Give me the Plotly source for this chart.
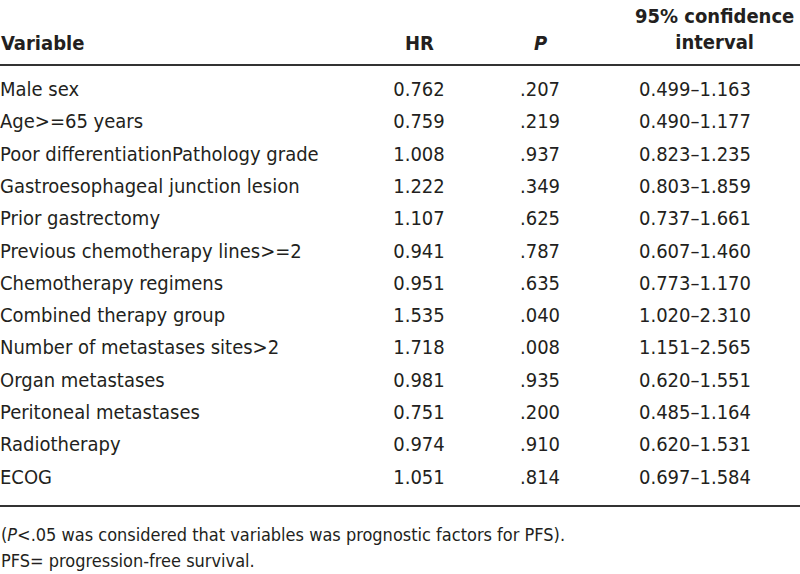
import plotly.graph_objects as go

variables = [
    "Male sex",
    "Age&gt;=65 years",
    "Poor differentiationPathology grade",
    "Gastroesophageal junction lesion",
    "Prior gastrectomy",
    "Previous chemotherapy lines&gt;=2",
    "Chemotherapy regimens",
    "Combined therapy group",
    "Number of metastases sites&gt;2",
    "Organ metastases",
    "Peritoneal metastases",
    "Radiotherapy",
    "ECOG",
]
hr = ["0.762", "0.759", "1.008", "1.222", "1.107", "0.941", "0.951",
      "1.535", "1.718", "0.981", "0.751", "0.974", "1.051"]
p_values = [".207", ".219", ".937", ".349", ".625", ".787", ".635",
            ".040", ".008", ".935", ".200", ".910", ".814"]
ci = ["0.499–1.163", "0.490–1.177", "0.823–1.235", "0.803–1.859",
      "0.737–1.661", "0.607–1.460", "0.773–1.170", "1.020–2.310",
      "1.151–2.565", "0.620–1.551", "0.485–1.164", "0.620–1.531",
      "0.697–1.584"]
headers = ["<b>Variable</b>", "<b>HR</b>", "<b><i>P</i></b>",
           "<b>95% confidence</b><br><b>interval</b>"]
footnotes = [
    "(<i>P</i>&lt;.05 was considered that variables was prognostic factors for PFS).",
    "PFS= progression-free survival.",
]

FONT = "DejaVu Sans Condensed, Liberation Sans Narrow, sans-serif"
FS = 20
FS_NOTE = 18
COLOR = "#231f20"

rows = list(range(len(variables)))
col_x = {"var": 0, "hr": 419, "p": 540, "ci": 695, "cih": 714}

fig = go.Figure()
fig.add_trace(go.Scatter(x=[col_x["var"]] * len(rows), y=rows, text=variables,
                         mode="text", textposition="middle right",
                         textfont=dict(family=FONT, size=FS, color=COLOR),
                         hoverinfo="skip", showlegend=False, cliponaxis=False))
for key, vals in (("hr", hr), ("p", p_values), ("ci", ci)):
    fig.add_trace(go.Scatter(x=[col_x[key]] * len(rows), y=rows, text=vals,
                             mode="text", textposition="middle center",
                             textfont=dict(family=FONT, size=FS, color=COLOR),
                             hoverinfo="skip", showlegend=False, cliponaxis=False))

row_h = 32.3
def ypix(px):
    return (px - 91) / row_h

hdr_y = ypix(43)
ann = []
ann.append(dict(x=col_x["var"], y=hdr_y, text=headers[0], xanchor="left", yanchor="middle", fs=FS))
ann.append(dict(x=col_x["hr"], y=hdr_y, text=headers[1], xanchor="center", yanchor="middle", fs=FS))
ann.append(dict(x=col_x["p"], y=hdr_y, text=headers[2], xanchor="center", yanchor="middle", fs=FS))
ann.append(dict(x=col_x["cih"], y=ypix(29), text=headers[3], xanchor="center", yanchor="middle", fs=FS))
ann.append(dict(x=0, y=ypix(534), text=footnotes[0], xanchor="left", yanchor="middle", fs=FS_NOTE))
ann.append(dict(x=0, y=ypix(560), text=footnotes[1], xanchor="left", yanchor="middle", fs=FS_NOTE))
for a in ann:
    fs = a.pop("fs")
    a.update(xref="x", yref="y", showarrow=False, align="center",
             borderpad=0, font=dict(family=FONT, size=fs, color=COLOR))
fig.update_layout(annotations=ann)

for ly in (65, 506):
    fig.add_shape(type="line", xref="paper", x0=0, x1=1, yref="y",
                  y0=ypix(ly), y1=ypix(ly), line=dict(color="#333333", width=2))

fig.update_layout(
    width=800, height=574,
    margin=dict(l=0, r=0, t=0, b=0),
    paper_bgcolor="white", plot_bgcolor="white",
    xaxis=dict(range=[0, 800], visible=False, fixedrange=True),
    yaxis=dict(range=[ypix(574), ypix(0)], visible=False, fixedrange=True),
)
fig.write_html("out.html", config={"displayModeBar": False},
               post_script="document.body.style.margin='0';document.body.style.padding='0';")
